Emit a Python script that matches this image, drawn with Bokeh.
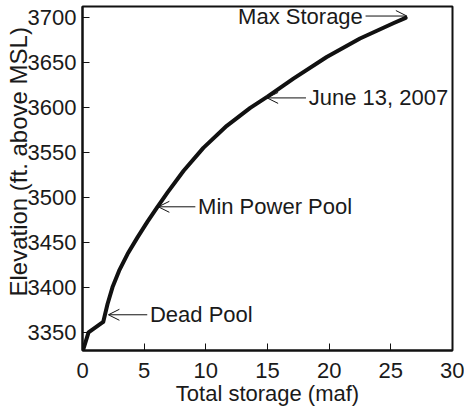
from bokeh.plotting import figure
from bokeh.models import Range1d, Arrow, OpenHead, Label, FixedTicker
from bokeh.embed import file_html
from bokeh.resources import INLINE

# ---- data ----
storage_maf = [0.05, 0.49, 1.68, 2.03, 2.43, 2.97, 3.65, 4.46, 5.27, 6.08, 6.9,
               8.2, 9.8, 11.7, 13.6, 15.0, 17.1, 19.8, 22.5, 25.2, 26.2]
elevation_ft = [3331, 3350.5, 3362, 3382, 3400.5, 3419, 3437.5, 3456, 3473.5, 3490, 3506,
                3530, 3555.5, 3580, 3600, 3612.5, 3632.5, 3656.5, 3677, 3694, 3700]

x_ticks = [0, 5, 10, 15, 20, 25, 30]
y_ticks = [3350, 3400, 3450, 3500, 3550, 3600, 3650, 3700]

ann_text = ["Dead Pool", "Min Power Pool", "June 13, 2007", "Max Storage"]
ann_storage = [2.1, 6.15, 14.97, 26.3]
ann_elev = [3370, 3490, 3611, 3702]

x_title = "Total storage (maf)"
y_title = "Elevation (ft. above MSL)"

# ---- styling / layout ----
FONT = "Liberation Sans"
FS = "22px"
INK = "#111111"
TXT = "#1a1a1a"
ann_side = [1, 1, 1, -1]           # +1: text right of the arrow, -1: left
ann_len = [3.15, 3.0, 3.15, 3.35]  # arrow length in x units
TEXT_GAP = 0.22
Y_TITLE_PAD = "\u00a0" * 5         # shifts the centred y title upward

p = figure(width=464, height=408, output_backend="svg", toolbar_location=None,
           x_range=Range1d(0, 30), y_range=Range1d(3330.3, 3712.6),
           min_border_left=82, min_border_right=12, min_border_top=6, min_border_bottom=58)
p.background_fill_color = "white"
p.border_fill_color = "white"
p.xgrid.visible = False
p.ygrid.visible = False
p.outline_line_color = INK
p.outline_line_width = 2
p.outline_line_alpha = 1

for ax in (p.xaxis, p.yaxis):
    ax.axis_line_color = INK
    ax.axis_line_width = 2
    ax.major_tick_in = 7
    ax.major_tick_out = 0
    ax.minor_tick_in = 0
    ax.minor_tick_out = 0
    ax.major_tick_line_color = INK
    ax.major_tick_line_width = 1
    ax.major_label_text_font = FONT
    ax.major_label_text_font_size = FS
    ax.major_label_text_color = TXT
    ax.axis_label_text_font = FONT
    ax.axis_label_text_font_style = "normal"
    ax.axis_label_text_color = TXT
p.xaxis.ticker = FixedTicker(ticks=x_ticks)
p.yaxis.ticker = FixedTicker(ticks=y_ticks)
p.xaxis.major_label_standoff = 12
p.yaxis.major_label_standoff = 6
p.yaxis.major_label_orientation = "horizontal"

p.xaxis.axis_label = x_title
p.xaxis.axis_label_text_font_size = FS
p.xaxis.axis_label_standoff = 0
p.yaxis.axis_label = Y_TITLE_PAD + y_title
p.yaxis.axis_label_text_font_size = "24px"
p.yaxis.axis_label_standoff = -7

p.line(storage_maf, elevation_ft, line_color=INK, line_width=4,
       line_join="round", line_cap="round")

for t, xs, ys, side, ln in zip(ann_text, ann_storage, ann_elev, ann_side, ann_len):
    tail = xs + side * ln
    p.add_layout(Arrow(end=OpenHead(size=11, line_width=1, line_color=INK),
                       x_start=tail, y_start=ys, x_end=xs, y_end=ys,
                       line_width=1, line_color=INK))
    p.add_layout(Label(x=tail + side * TEXT_GAP, y=ys, text=t,
                       text_align="left" if side > 0 else "right",
                       text_baseline="middle", text_font=FONT, text_font_size=FS,
                       text_color=TXT))

open("out.html", "w").write(file_html(p, INLINE))
